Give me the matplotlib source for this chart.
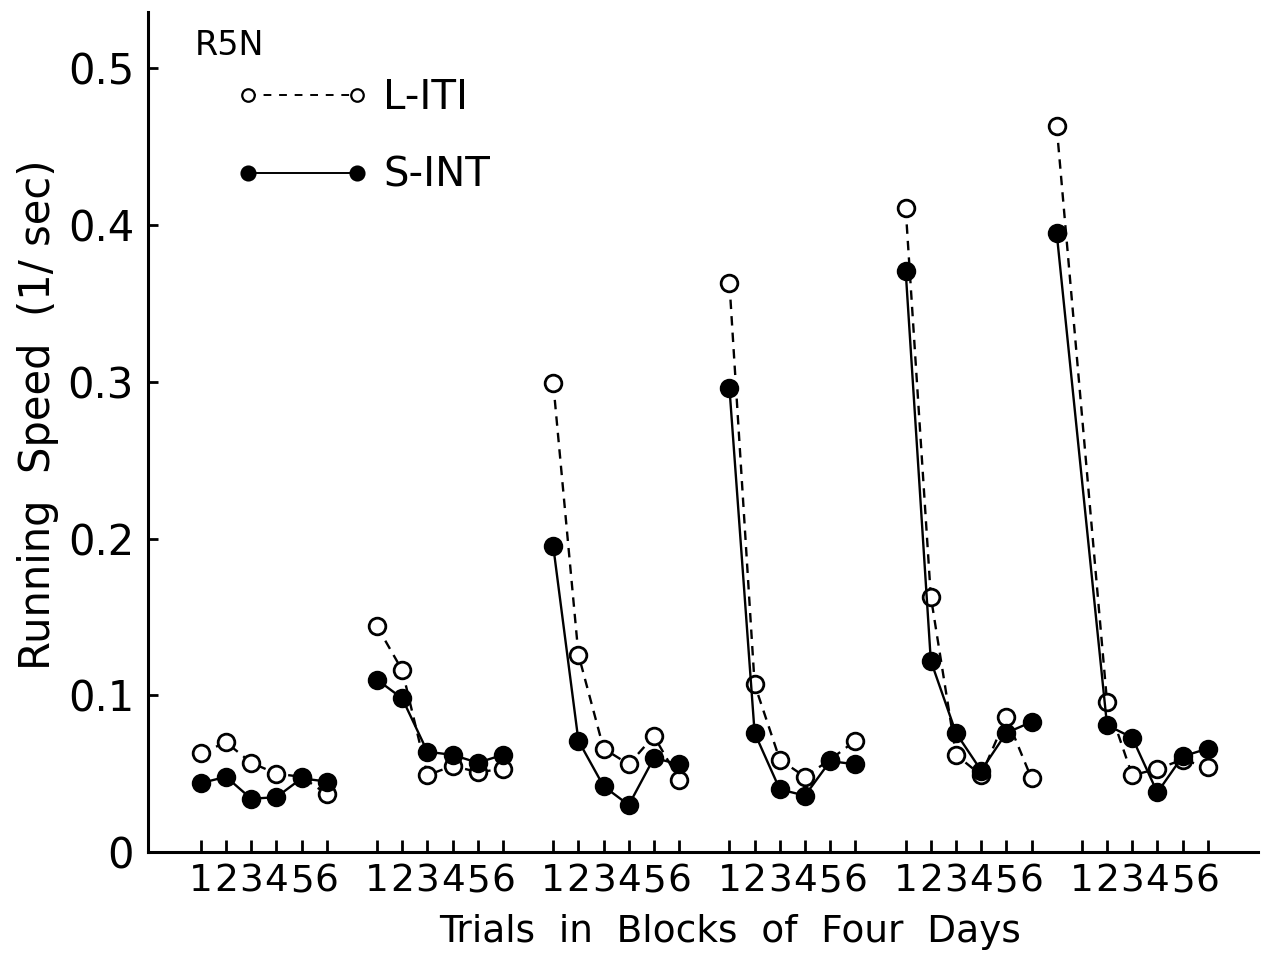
import matplotlib.pyplot as plt
from matplotlib.lines import Line2D

plt.rcParams['font.family'] = ['Liberation Sans Narrow', 'DejaVu Sans']

# Data: six blocks of four days, six trials per block
trials = [1, 2, 3, 4, 5, 6]
n_blocks = 6
block_gap = 7
# trial 1 of the last block is drawn one step to the left in the original
first_trial_x = [1, 1, 1, 1, 1, 0]

l_iti = [
    [0.063, 0.070, 0.057, 0.050, 0.048, 0.037],
    [0.144, 0.116, 0.049, 0.055, 0.051, 0.053],
    [0.299, 0.126, 0.066, 0.056, 0.074, 0.046],
    [0.363, 0.107, 0.059, 0.048, 0.059, 0.071],
    [0.411, 0.163, 0.062, 0.049, 0.086, 0.047],
    [0.463, 0.096, 0.049, 0.053, 0.059, 0.054],
]
s_int = [
    [0.044, 0.048, 0.034, 0.035, 0.047, 0.045],
    [0.110, 0.098, 0.064, 0.062, 0.057, 0.062],
    [0.195, 0.071, 0.042, 0.030, 0.060, 0.056],
    [0.296, 0.076, 0.040, 0.036, 0.058, 0.056],
    [0.371, 0.122, 0.076, 0.052, 0.076, 0.083],
    [0.395, 0.081, 0.073, 0.038, 0.061, 0.066],
]

fig = plt.figure(figsize=(12.65, 9.58), dpi=100)
ax = fig.add_axes([0.117, 0.1106, 0.8775, 0.8769])

tick_pos = []
tick_lab = []
for b in range(n_blocks):
    xs = [b * block_gap + t for t in trials]
    xs[0] = b * block_gap + first_trial_x[b]
    ax.plot(xs, l_iti[b], color='black', lw=1.7, ls=(0, (4, 3)),
            marker='o', ms=12, mfc='white', mec='black', mew=2,
            label='L-ITI' if b == 0 else None, zorder=2)
    ax.plot(xs, s_int[b], color='black', lw=1.7, ls='-',
            marker='o', ms=12, mfc='black', mec='black', mew=2,
            label='S-INT' if b == 0 else None, zorder=3)
    for t in trials:
        tick_pos.append(b * block_gap + t)
        tick_lab.append(str(t))

ax.set_xlim(-1.1, 43.0)
ax.set_ylim(0, 0.536)
ax.set_xticks(tick_pos)
ax.set_xticklabels(tick_lab, fontsize=27)
ax.set_yticks([0, 0.1, 0.2, 0.3, 0.4, 0.5])
ax.set_yticklabels(['0', '0.1', '0.2', '0.3', '0.4', '0.5'], fontsize=30)
ax.tick_params(axis='x', direction='in', length=9, width=2, pad=8)
ax.tick_params(axis='y', direction='in', length=7, width=2, pad=10)

for s in ['top', 'right']:
    ax.spines[s].set_visible(False)
for s in ['left', 'bottom']:
    ax.spines[s].set_linewidth(2.2)

fig.text(0.577, 0.027, 'Trials  in  Blocks  of  Four  Days', fontsize=27,
         ha='center', va='center')
fig.text(0.030, 0.567, 'Running  Speed  (1/ sec)', fontsize=30,
         ha='center', va='center', rotation=90)
fig.text(0.154, 0.953, 'R5N', fontsize=24, ha='left', va='center')

handles = [
    Line2D([], [], color='black', lw=1.4, ls=(0, (4, 4)), marker='o', ms=9,
           mfc='white', mec='black', mew=1.6),
    Line2D([], [], color='black', lw=1.4, ls='-', marker='o', ms=10,
           mfc='black', mec='black', mew=1.6),
]
fig.legend(handles, ['L-ITI', 'S-INT'], loc='upper left',
           bbox_to_anchor=(0.1866, 0.919), frameon=False, numpoints=2,
           fontsize=29, handlelength=3.3, handletextpad=0.35,
           labelspacing=0.95, borderpad=0, borderaxespad=0)

fig.savefig('out.png', dpi=100)
